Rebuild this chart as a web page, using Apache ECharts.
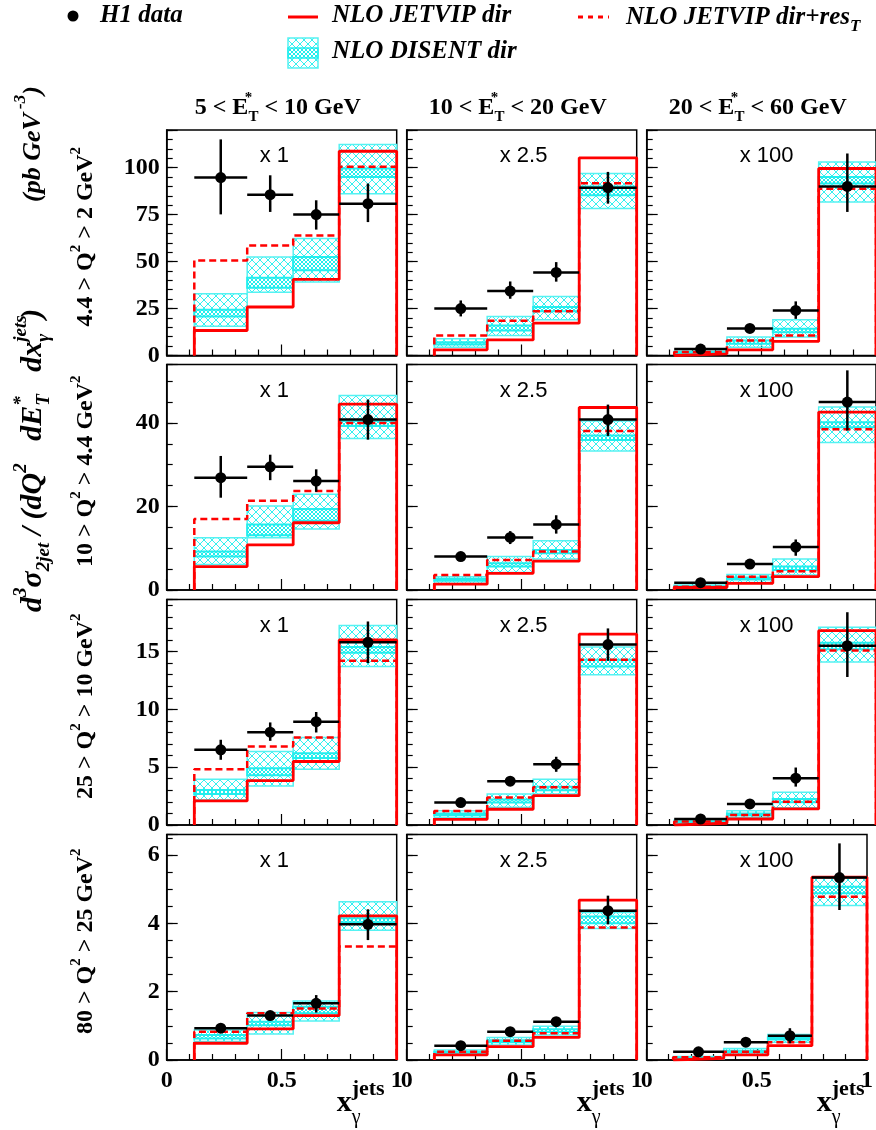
<!DOCTYPE html>
<html>
<head>
<meta charset="utf-8">
<script src="https://cdn.jsdelivr.net/npm/echarts@6/dist/echarts.min.js"></script>
<style>
  html, body { margin: 0; padding: 0; background: #fff; }
  #chart { width: 876px; height: 1130px; }
</style>
</head>
<body>
<div id="chart"></div>
<script>
// x_gamma bins, the same in every panel
var binEdges = [0.12, 0.35, 0.55, 0.75, 1.0];
var xTickLabels = ['0', '0.5', '1'];
var scaleText = ['x 1', 'x 2.5', 'x 100'];
var etBins = [['5', '10'], ['10', '20'], ['20', '60']];
var q2Bins = [['4.4', '2'], ['10', '4.4'], ['25', '10'], ['80', '25']];
// y ranges per Q2 row
var yMax = [120, 54, 19.5, 6.6];
var yMajor = [25, 20, 5, 2];
var yMinor = [5, 5, 1, 0.5];

// NLO JETVIP dir  [row][col][bin]
var jetvipDir = [
  [[13.3, 25.8, 40.5, 108.7], [3.0, 8.3, 17.2, 105.2], [0.9, 3.0, 7.5, 99.5]],
  [[5.6, 10.8, 16.1, 44.5], [1.4, 4.0, 6.9, 43.7], [0.6, 1.6, 3.2, 42.6]],
  [[2.08, 3.84, 5.49, 16.0], [0.49, 1.36, 2.54, 16.5], [0.15, 0.52, 1.39, 16.8]],
  [[0.49, 0.91, 1.30, 4.22], [0.15, 0.39, 0.66, 4.68], [0.05, 0.15, 0.42, 5.35]]
];
// NLO JETVIP dir+res_T
var jetvipRes = [
  [[50.6, 58.6, 63.8, 100.4], [10.7, 18.5, 23.6, 91.7], [1.8, 8.0, 10.7, 88.8]],
  [[17.0, 21.4, 23.7, 40.0], [3.6, 7.2, 9.2, 38.1], [0.8, 3.2, 4.5, 38.5]],
  [[4.83, 6.79, 7.57, 14.2], [1.21, 2.37, 3.27, 14.3], [0.3, 0.87, 2.02, 15.1]],
  [[0.83, 1.37, 1.51, 3.32], [0.24, 0.56, 0.78, 3.88], [0.08, 0.24, 0.52, 4.78]]
];
// NLO DISENT dir, outer band
var disentLo = [
  [[15.6, 33.7, 39.1, 86.1], [4.4, 10.7, 19.0, 78.2], [0.9, 4.4, 9.8, 81.7]],
  [[6.1, 12.5, 14.6, 36.3], [1.6, 4.2, 7.4, 33.3], [0.4, 1.8, 3.6, 35.3]],
  [[2.17, 3.38, 4.83, 13.7], [0.64, 1.53, 2.69, 13.0], [0.15, 0.64, 1.5, 14.1]],
  [[0.54, 0.76, 1.14, 3.8], [0.15, 0.44, 0.73, 3.85], [0.03, 0.15, 0.52, 4.52]]
];
var disentHi = [
  [[32.9, 52.4, 62.2, 112.3], [8.9, 20.8, 31.4, 96.8], [2.3, 9.8, 19.0, 103.0]],
  [[12.5, 20.1, 22.9, 46.6], [3.2, 8.0, 11.8, 40.5], [1.2, 3.7, 7.4, 43.8]],
  [[3.96, 6.36, 7.57, 17.25], [1.24, 2.69, 3.96, 15.4], [0.4, 1.24, 2.83, 17.1]],
  [[0.88, 1.39, 1.73, 4.63], [0.29, 0.66, 0.99, 4.32], [0.1, 0.34, 0.75, 5.32]]
];
// NLO DISENT dir, inner band
var disentInLo = [
  [[20.8, 36.0, 45.3, 95.0], [5.9, 13.3, 23.6, 85.3], [1.3, 6.2, 12.4, 91.5]],
  [[8.0, 13.1, 16.6, 39.3], [2.2, 5.6, 8.8, 35.9], [0.7, 2.5, 4.8, 39.0]],
  [[2.69, 4.3, 5.8, 14.9], [0.85, 1.95, 3.0, 13.7], [0.22, 0.85, 1.97, 15.2]],
  [[0.63, 1.02, 1.37, 4.03], [0.2, 0.52, 0.82, 4.0], [0.05, 0.22, 0.6, 4.88]]
];
var disentInHi = [
  [[24.3, 41.4, 52.4, 99.5], [7.1, 16.0, 25.8, 90.0], [1.8, 8.0, 14.2, 95.0]],
  [[9.2, 15.7, 19.4, 40.5], [2.7, 6.4, 9.6, 37.0], [0.9, 3.0, 5.6, 40.2]],
  [[3.03, 4.9, 6.2, 15.4], [1.0, 2.2, 3.3, 14.3], [0.3, 1.0, 2.25, 15.75]],
  [[0.73, 1.12, 1.56, 4.15], [0.24, 0.58, 0.9, 4.2], [0.07, 0.27, 0.66, 5.07]]
];
// H1 data with error bar ends
var h1Val = [
  [[94.7, 85.6, 75.0, 80.8], [25.0, 34.3, 44.2, 89.3], [3.4, 14.4, 24.0, 90.0]],
  [[26.9, 29.5, 26.1, 40.8], [8.0, 12.6, 15.7, 40.8], [1.75, 6.2, 10.3, 45.0]],
  [[6.5, 8.03, 8.93, 15.8], [1.94, 3.79, 5.26, 15.6], [0.52, 1.82, 4.05, 15.5]],
  [[0.93, 1.30, 1.66, 3.97], [0.42, 0.83, 1.12, 4.37], [0.24, 0.52, 0.71, 5.34]]
];
var h1Hi = [
  [[115, 95.9, 82.6, 91.5], [29.3, 39.4, 49.7, 97.7], [4.2, 16.3, 28.8, 107.5]],
  [[32.1, 32.4, 28.9, 45.6], [9.0, 14.1, 17.9, 44.4], [2.1, 6.9, 12.1, 52.6]],
  [[7.37, 8.87, 9.77, 17.6], [2.1, 4.1, 5.9, 17.0], [0.6, 2.0, 4.97, 18.4]],
  [[1.0, 1.38, 1.9, 4.41], [0.45, 0.88, 1.18, 4.81], [0.27, 0.58, 0.93, 6.34]]
];
var h1Lo = [
  [[75.1, 76.4, 67.0, 71.0], [20.8, 30.2, 39.3, 80.8], [2.6, 12.5, 19.5, 76.4]],
  [[22.1, 26.3, 23.5, 36.0], [7.0, 11.0, 13.5, 36.9], [1.4, 5.5, 8.2, 38.2]],
  [[5.64, 7.28, 8.0, 14.0], [1.78, 3.5, 4.6, 14.2], [0.44, 1.64, 3.32, 12.8]],
  [[0.86, 1.22, 1.39, 3.51], [0.39, 0.78, 1.06, 3.97], [0.21, 0.46, 0.49, 4.39]]
];

// layout of the 4x3 panels
var colLeft = [166.7, 406.7, 646.7];
var rowTop = [130, 364.5, 599.5, 834.5];
var panelW = 230, panelH = 225.5;

var SERIF = 'Liberation Serif';
var SANS = 'Liberation Sans';

// cross hatch fill for the DISENT bands
function hatch(size, color, lw) {
  var cv = document.createElement('canvas');
  cv.width = size; cv.height = size;
  var ctx = cv.getContext('2d');
  ctx.strokeStyle = color;
  ctx.lineWidth = lw;
  ctx.beginPath();
  ctx.moveTo(0, 0); ctx.lineTo(size, size);
  ctx.moveTo(size, 0); ctx.lineTo(0, size);
  ctx.stroke();
  return { image: cv, repeat: 'repeat' };
}
var wideHatch = hatch(8, '#33f0f0', 1);
var fineHatch = hatch(4, '#22eeee', 1);

function stepPoints(vals) {
  var pts = [[binEdges[0], 0]];
  for (var i = 0; i < vals.length; i++) {
    pts.push([binEdges[i], vals[i]]);
    pts.push([binEdges[i + 1], vals[i]]);
  }
  pts.push([binEdges[binEdges.length - 1], 0]);
  return pts;
}

function renderBand(params, api) {
  var a = api.coord([api.value(0), api.value(3)]);
  var b = api.coord([api.value(1), api.value(2)]);
  var c = api.coord([api.value(0), api.value(5)]);
  var d = api.coord([api.value(1), api.value(4)]);
  return {
    type: 'group',
    children: [
      { type: 'rect', shape: { x: a[0], y: a[1], width: b[0] - a[0], height: b[1] - a[1] },
        style: { fill: wideHatch, stroke: '#55f2f2', lineWidth: 1.5 } },
      { type: 'rect', shape: { x: c[0], y: c[1], width: d[0] - c[0], height: d[1] - c[1] },
        style: { fill: fineHatch, stroke: '#22eeee', lineWidth: 2 } }
    ]
  };
}

function renderH1(params, api) {
  var x0 = api.value(0), x1 = api.value(1), xc = (x0 + x1) / 2;
  var v = api.value(2);
  var pL = api.coord([x0, v]), pR = api.coord([x1, v]), pC = api.coord([xc, v]);
  var pLo = api.coord([xc, api.value(3)]), pHi = api.coord([xc, api.value(4)]);
  return {
    type: 'group',
    children: [
      { type: 'line', shape: { x1: pL[0], y1: pL[1], x2: pR[0], y2: pR[1] }, style: { stroke: '#000', lineWidth: 2.5 } },
      { type: 'line', shape: { x1: pLo[0], y1: pLo[1], x2: pHi[0], y2: pHi[1] }, style: { stroke: '#000', lineWidth: 2.5 } },
      { type: 'circle', shape: { cx: pC[0], cy: pC[1], r: 5.5 }, style: { fill: '#000' } }
    ]
  };
}

function isMultiple(v, step) {
  return Math.abs(v / step - Math.round(v / step)) < 1e-6;
}

var grids = [], xAxes = [], yAxes = [], series = [], graphics = [];

for (var r = 0; r < 4; r++) {
  for (var c = 0; c < 3; c++) {
    var k = r * 3 + c;
    grids.push({
      left: colLeft[c], top: rowTop[r], width: panelW, height: panelH,
      show: true, borderColor: '#000', borderWidth: 1.5, backgroundColor: 'transparent'
    });
    xAxes.push({
      type: 'value', gridIndex: k, min: 0, max: 1, interval: 0.5,
      axisLine: { show: true, lineStyle: { color: '#000', width: 1.5 } },
      axisTick: { show: true, inside: true, length: 11, lineStyle: { color: '#000', width: 1.2 } },
      minorTick: { show: true, splitNumber: 5, length: 6, lineStyle: { color: '#000', width: 1.2 } },
      splitLine: { show: false },
      axisLabel: {
        show: r === 3, margin: 9, color: '#000',
        fontFamily: SERIF, fontWeight: 'bold', fontSize: 24,
        formatter: function (v) { return v === 0 ? xTickLabels[0] : (v === 0.5 ? xTickLabels[1] : xTickLabels[2]); }
      }
    });
    // labelled major ticks
    yAxes.push({
      type: 'value', gridIndex: k, position: 'left', min: 0, max: yMax[r], interval: yMajor[r],
      axisLine: { show: true, lineStyle: { color: '#000', width: 1.5 } },
      axisTick: { show: true, inside: true, length: 11, lineStyle: { color: '#000', width: 1.2 } },
      splitLine: { show: false },
      axisLabel: {
        show: c === 0, margin: 7, color: '#000',
        fontFamily: SERIF, fontWeight: 'bold', fontSize: 24,
        formatter: (function (step) {
          return function (v) { return isMultiple(v, step) ? String(v) : ''; };
        })(yMajor[r])
      }
    });
    // minor ticks
    yAxes.push({
      type: 'value', gridIndex: k, position: 'left', offset: 0, min: 0, max: yMax[r], interval: yMinor[r],
      axisLine: { show: false },
      axisTick: { show: true, inside: true, length: 6, lineStyle: { color: '#000', width: 1.2 } },
      splitLine: { show: false },
      axisLabel: { show: false }
    });

    var bandData = [], h1Data = [];
    for (var i = 0; i < 4; i++) {
      bandData.push([binEdges[i], binEdges[i + 1], disentLo[r][c][i], disentHi[r][c][i], disentInLo[r][c][i], disentInHi[r][c][i]]);
      h1Data.push([binEdges[i], binEdges[i + 1], h1Val[r][c][i], h1Lo[r][c][i], h1Hi[r][c][i]]);
    }
    series.push({
      name: 'NLO DISENT dir', type: 'custom', xAxisIndex: k, yAxisIndex: 2 * k,
      data: bandData, encode: { x: [0, 1], y: [2, 3] }, renderItem: renderBand, z: 2
    });
    series.push({
      name: 'NLO JETVIP dir+res_T', type: 'line', xAxisIndex: k, yAxisIndex: 2 * k,
      data: stepPoints(jetvipRes[r][c]), symbol: 'none', z: 3,
      lineStyle: { color: '#ff0000', width: 2.5, type: [7, 4] }
    });
    series.push({
      name: 'NLO JETVIP dir', type: 'line', xAxisIndex: k, yAxisIndex: 2 * k,
      data: stepPoints(jetvipDir[r][c]), symbol: 'none', z: 4,
      lineStyle: { color: '#ff0000', width: 2.8 }
    });
    series.push({
      name: 'H1 data', type: 'custom', xAxisIndex: k, yAxisIndex: 2 * k,
      data: h1Data, encode: { x: [0, 1], y: [2, 3, 4] }, renderItem: renderH1, z: 5
    });

    // scale factor text
    graphics.push({
      type: 'text', x: colLeft[c] + 93, y: rowTop[r] + 26, z: 10,
      style: { text: scaleText[c], fontFamily: SANS, fontSize: 22, fill: '#000', align: 'left', verticalAlign: 'middle' }
    });
  }
}

var richSerif = {
  n: { fontFamily: SERIF, fontWeight: 'bold', fontSize: 24, lineHeight: 34, fill: '#000' },
  sup: { fontFamily: SERIF, fontWeight: 'bold', fontSize: 15, verticalAlign: 'top', fill: '#000' },
  st: { fontFamily: SERIF, fontWeight: 'bold', fontSize: 15, verticalAlign: 'top', width: 0, fill: '#000' },
  sub: { fontFamily: SERIF, fontWeight: 'bold', fontSize: 15, verticalAlign: 'bottom', fill: '#000' }
};

// E_T* column titles
for (var c = 0; c < 3; c++) {
  graphics.push({
    type: 'text', x: colLeft[c] + panelW / 2 - 4, y: 108,
    style: {
      text: '{n|' + etBins[c][0] + ' < E}{st|*}{sub|T}{n| < ' + etBins[c][1] + ' GeV}',
      rich: richSerif, align: 'center', verticalAlign: 'middle'
    }
  });
  // x axis title: x with "jets" above and gamma below
  graphics.push({
    type: 'text', x: colLeft[c] + 170, y: 1103,
    style: {
      text: '{x|x}{st|jets}{g|\u03b3}',
      rich: {
        x: { fontFamily: SERIF, fontWeight: 'bold', fontSize: 30, lineHeight: 50, fill: '#000' },
        st: { fontFamily: SERIF, fontWeight: 'bold', fontSize: 22, verticalAlign: 'top', width: 0, fill: '#000' },
        g: { fontFamily: SERIF, fontSize: 20, verticalAlign: 'bottom', fill: '#000' }
      },
      align: 'left', verticalAlign: 'middle'
    }
  });
}

// Q2 row labels
for (var r = 0; r < 4; r++) {
  graphics.push({
    type: 'text', x: 86, y: rowTop[r] + panelH / 2 - 6, rotation: Math.PI / 2,
    style: {
      text: '{n|' + q2Bins[r][0] + ' > Q}{sup|2}{n| > ' + q2Bins[r][1] + ' GeV}{sup|2}',
      rich: richSerif, align: 'center', verticalAlign: 'middle'
    }
  });
}

var richItal = {
  m: { fontFamily: SERIF, fontWeight: 'bold', fontStyle: 'italic', fontSize: 30, lineHeight: 42, fill: '#000' },
  sup: { fontFamily: SERIF, fontWeight: 'bold', fontStyle: 'italic', fontSize: 19, verticalAlign: 'top', fill: '#000' },
  st: { fontFamily: SERIF, fontWeight: 'bold', fontStyle: 'italic', fontSize: 19, verticalAlign: 'top', width: 0, fill: '#000' },
  sub: { fontFamily: SERIF, fontWeight: 'bold', fontStyle: 'italic', fontSize: 19, verticalAlign: 'bottom', fill: '#000' }
};
var richUnit = {
  m: { fontFamily: SERIF, fontWeight: 'bold', fontStyle: 'italic', fontSize: 26, lineHeight: 42, fill: '#000' },
  sup: { fontFamily: SERIF, fontWeight: 'bold', fontStyle: 'italic', fontSize: 17, verticalAlign: 'top', fill: '#000' }
};
// y title, written bottom to top
graphics.push({
  type: 'text', x: 33, y: 612, rotation: Math.PI / 2,
  style: {
    text: '{m|d}{sup|3}{m|\u03c3}{sub|2jet}{m| / (dQ}{sup|2}{m|   dE}{st|*}{sub|T}{m|   dx}{st|jets}{sub|\u03b3}{m|  )}',
    rich: richItal, align: 'left', verticalAlign: 'middle'
  }
});
graphics.push({
  type: 'text', x: 33, y: 202, rotation: Math.PI / 2,
  style: {
    text: '{m|(pb GeV}{sup| -3}{m|)}',
    rich: richUnit, align: 'left', verticalAlign: 'middle'
  }
});

// legend
var legFont = { fontFamily: SERIF, fontWeight: 'bold', fontStyle: 'italic', fontSize: 25, fill: '#000' };
graphics.push({ type: 'circle', shape: { cx: 73, cy: 16, r: 5.5 }, style: { fill: '#000' } });
graphics.push({ type: 'text', x: 100, y: 16, style: Object.assign({ text: 'H1 data', align: 'left', verticalAlign: 'middle' }, legFont) });
graphics.push({ type: 'line', shape: { x1: 288, y1: 17, x2: 318, y2: 17 }, style: { stroke: '#ff0000', lineWidth: 3 } });
graphics.push({ type: 'text', x: 332, y: 16, style: Object.assign({ text: 'NLO JETVIP dir', align: 'left', verticalAlign: 'middle' }, legFont) });
graphics.push({ type: 'line', shape: { x1: 578, y1: 17, x2: 609, y2: 17 }, style: { stroke: '#ff0000', lineWidth: 3, lineDash: [5, 5] } });
graphics.push({
  type: 'text', x: 626, y: 18,
  style: {
    text: '{m|NLO JETVIP dir+res}{sub|T}',
    rich: {
      m: Object.assign({ lineHeight: 34 }, legFont),
      sub: { fontFamily: SERIF, fontWeight: 'bold', fontStyle: 'italic', fontSize: 17, verticalAlign: 'bottom', fill: '#000' }
    },
    align: 'left', verticalAlign: 'middle'
  }
});
graphics.push({ type: 'rect', shape: { x: 288, y: 38, width: 30, height: 30 }, style: { fill: wideHatch, stroke: '#55f2f2', lineWidth: 1.5 } });
graphics.push({ type: 'rect', shape: { x: 288, y: 48, width: 30, height: 10 }, style: { fill: fineHatch, stroke: '#22eeee', lineWidth: 1.5 } });
graphics.push({ type: 'text', x: 332, y: 52, style: Object.assign({ text: 'NLO DISENT dir', align: 'left', verticalAlign: 'middle' }, legFont) });

var chart = echarts.init(document.getElementById('chart'), null, { renderer: 'canvas' });
chart.setOption({
  backgroundColor: '#fff',
  animation: false,
  grid: grids,
  xAxis: xAxes,
  yAxis: yAxes,
  series: series,
  graphic: graphics
});
</script>
</body>
</html>
